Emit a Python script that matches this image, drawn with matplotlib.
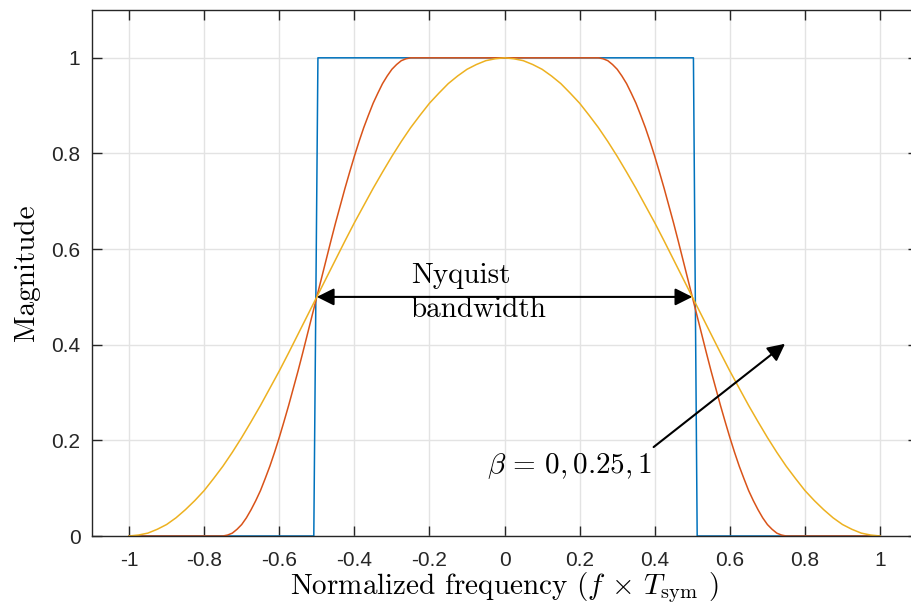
import numpy as np
import matplotlib
matplotlib.use('Agg')
import matplotlib.pyplot as plt

# frequency grid (positive half) and magnitudes
freq_half = [0.0, 0.025, 0.05, 0.075, 0.1, 0.125, 0.15, 0.175, 0.2, 0.225, 0.25,
             0.275, 0.3, 0.325, 0.35, 0.375, 0.4, 0.425, 0.45, 0.475, 0.5,
             0.525, 0.55, 0.575, 0.6, 0.625, 0.65, 0.675, 0.7, 0.725, 0.75,
             0.775, 0.8, 0.825, 0.85, 0.875, 0.9, 0.925, 0.95, 0.975, 1.0]

# beta = 1
mag_b1_half = [1.0, 0.998, 0.994, 0.986, 0.976, 0.962, 0.946, 0.926, 0.905, 0.880, 0.854,
               0.825, 0.794, 0.761, 0.727, 0.691, 0.655, 0.617, 0.578, 0.539, 0.5,
               0.461, 0.422, 0.383, 0.345, 0.309, 0.273, 0.239, 0.206, 0.175, 0.146,
               0.120, 0.095, 0.074, 0.055, 0.038, 0.024, 0.014, 0.006, 0.002, 0.0]

# beta = 0.25 (as labelled), finer grid over the roll-off
freq_b025_half = [0.0, 0.25, 0.2625, 0.275, 0.2875, 0.3, 0.3125, 0.325, 0.3375, 0.35,
                  0.3625, 0.375, 0.3875, 0.4, 0.4125, 0.425, 0.4375, 0.45, 0.4625,
                  0.475, 0.4875, 0.5, 0.5125, 0.525, 0.5375, 0.55, 0.5625, 0.575,
                  0.5875, 0.6, 0.6125, 0.625, 0.6375, 0.65, 0.6625, 0.675, 0.6875,
                  0.7, 0.7125, 0.725, 0.7375, 0.75, 1.0]
mag_b025_half = [1.0, 1.0, 0.998, 0.994, 0.986, 0.976, 0.962, 0.946, 0.926, 0.905,
                 0.880, 0.854, 0.825, 0.794, 0.761, 0.727, 0.691, 0.655, 0.617,
                 0.578, 0.539, 0.5, 0.461, 0.422, 0.383, 0.345, 0.309, 0.273,
                 0.239, 0.206, 0.175, 0.146, 0.120, 0.095, 0.074, 0.055, 0.038,
                 0.024, 0.014, 0.006, 0.002, 0.0, 0.0]

# beta = 0 (brick wall)
freq_b0 = [-1.0, -0.508, -0.497, 0.503, 0.513, 1.0]
mag_b0 = [0.0, 0.0, 1.0, 1.0, 0.0, 0.0]

xticks = [-1, -0.8, -0.6, -0.4, -0.2, 0, 0.2, 0.4, 0.6, 0.8, 1]
xticklabels = ['-1', '-0.8', '-0.6', '-0.4', '-0.2', '0', '0.2', '0.4', '0.6', '0.8', '1']
yticks = [0, 0.2, 0.4, 0.6, 0.8, 1]
yticklabels = ['0', '0.2', '0.4', '0.6', '0.8', '1']


def mirror(f, m):
    f = np.array(f)
    m = np.array(m)
    return np.concatenate([-f[::-1], f[1:]]), np.concatenate([m[::-1], m[1:]])


freq_b1, mag_b1 = mirror(freq_half, mag_b1_half)
freq_b025, mag_b025 = mirror(freq_b025_half, mag_b025_half)

plt.rcParams['mathtext.fontset'] = 'cm'
serif = 'cmr10'
dark = '#262626'

fig = plt.figure(figsize=(9.12, 6.08), dpi=100)
ax = fig.add_axes([91.5 / 912, 72 / 608, (917.6 - 91.5) / 912, 526 / 608])

ax.plot(freq_b0, mag_b0, color='#0072BD', lw=1.1)
ax.plot(freq_b025, mag_b025, color='#D95319', lw=1.1)
ax.plot(freq_b1, mag_b1, color='#EDB120', lw=1.1)

ax.set_xlim(-1.1, 1.1)
ax.set_ylim(0, 1.1)
ax.set_xticks(xticks)
ax.set_xticklabels(xticklabels, fontname='Liberation Sans', fontsize=15, color=dark)
ax.set_yticks(yticks)
ax.set_yticklabels(yticklabels, fontname='Liberation Sans', fontsize=15, color=dark)
ax.tick_params(direction='in', length=7, width=1.0, color=dark, top=True, right=True)
ax.tick_params(axis='x', pad=11)
ax.tick_params(axis='y', pad=8)
ax.grid(True, color='#e3e3e3', lw=1.0)
ax.set_axisbelow(True)
for s in ax.spines.values():
    s.set_color(dark)
    s.set_linewidth(1.0)

ax.set_xlabel(r'Normalized frequency ($f \,\times\, T_{\mathrm{sym}}$ )', fontname=serif,
              fontsize=21, labelpad=0)
ax.set_ylabel('Magnitude', fontname=serif, fontsize=21, labelpad=8)

# Nyquist bandwidth arrow
ax.annotate('', xy=(-0.5, 0.5), xytext=(0.5, 0.5),
            arrowprops=dict(arrowstyle='<|-|>', color='black', lw=1.5,
                            mutation_scale=26, shrinkA=0, shrinkB=0))
ax.text(-0.25, 0.529, 'Nyquist', fontname=serif, fontsize=21, va='baseline', ha='left')
ax.text(-0.25, 0.458, 'bandwidth', fontname=serif, fontsize=21, va='baseline', ha='left')

# beta arrow
ax.annotate('', xy=(0.747, 0.402), xytext=(0.397, 0.186),
            arrowprops=dict(arrowstyle='-|>', color='black', lw=1.5,
                            mutation_scale=26, shrinkA=0, shrinkB=0))
ax.text(0.394, 0.132, r'$\beta\,=\,0, 0.25, 1$', fontsize=21, va='baseline', ha='right')

fig.savefig('out.png', dpi=100)
